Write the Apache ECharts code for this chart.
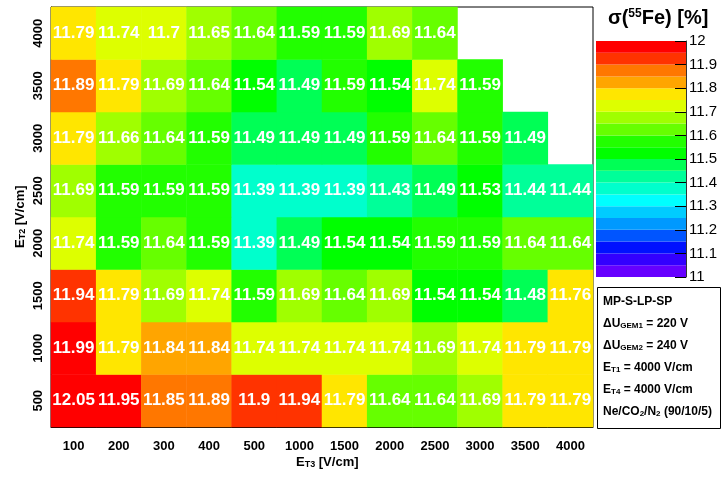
<!DOCTYPE html>
<html>
<head>
<meta charset="utf-8">
<script src="https://cdn.jsdelivr.net/npm/echarts@6/dist/echarts.min.js"></script>
<style>
  html, body { margin: 0; padding: 0; background: #fff; }
  #chart { width: 723px; height: 477px; }
</style>
</head>
<body>
<div id="chart"></div>
<script>
// E_T3 drift field settings (x) and E_T2 settings (y), in V/cm
const et3Labels = ['100', '200', '300', '400', '500', '1000', '1500', '2000', '2500', '3000', '3500', '4000'];
const et2Labels = ['500', '1000', '1500', '2000', '2500', '3000', '3500', '4000'];

// Energy resolution sigma(55Fe) in %, one row per E_T2 value (null = not measured)
const row500  = [12.05, 11.95, 11.85, 11.89, 11.9, 11.94, 11.79, 11.64, 11.64, 11.69, 11.79, 11.79];
const row1000 = [11.99, 11.79, 11.84, 11.84, 11.74, 11.74, 11.74, 11.74, 11.69, 11.74, 11.79, 11.79];
const row1500 = [11.94, 11.79, 11.69, 11.74, 11.59, 11.69, 11.64, 11.69, 11.54, 11.54, 11.48, 11.76];
const row2000 = [11.74, 11.59, 11.64, 11.59, 11.39, 11.49, 11.54, 11.54, 11.59, 11.59, 11.64, 11.64];
const row2500 = [11.69, 11.59, 11.59, 11.59, 11.39, 11.39, 11.39, 11.43, 11.49, 11.53, 11.44, 11.44];
const row3000 = [11.79, 11.66, 11.64, 11.59, 11.49, 11.49, 11.49, 11.59, 11.64, 11.59, 11.49, null];
const row3500 = [11.89, 11.79, 11.69, 11.64, 11.54, 11.49, 11.59, 11.54, 11.74, 11.59, null, null];
const row4000 = [11.79, 11.74, 11.7, 11.65, 11.64, 11.59, 11.59, 11.69, 11.64, null, null, null];
const rows = [row500, row1000, row1500, row2000, row2500, row3000, row3500, row4000];

// Colour scale: 20 bands of 0.05 % from 11 to 12
const zMin = 11, zMax = 12, zStep = 0.05;
const palette = [
  '#6600ff', '#3300ff', '#0011ff', '#0055ff', '#0099ff',
  '#00ccff', '#00ffff', '#00ffcc', '#00ff99', '#00ff55',
  '#00ff00', '#22ff00', '#66ff00', '#a0ff00', '#ddff00',
  '#ffe600', '#ffa500', '#ff7700', '#ff3300', '#ff0000'
];
const colorbarTicks = ['11', '11.1', '11.2', '11.3', '11.4', '11.5', '11.6', '11.7', '11.8', '11.9', '12'];

const r2 = v => Math.round(v * 100) / 100;

const heatData = [];
rows.forEach((row, yi) => row.forEach((v, xi) => {
  if (v !== null) heatData.push([xi, yi, v]);
}));

const pieces = palette.map((c, i) => {
  const p = { color: c };
  if (i > 0) p.gte = r2(zMin + zStep * i);
  if (i < palette.length - 1) p.lt = r2(zMin + zStep * (i + 1));
  return p;
});

const bandData = palette.map((c, i) => [r2(zMin + zStep * i), r2(zMin + zStep * (i + 1)), i]);

const FONT = '"Liberation Sans", Arial, Helvetica, sans-serif';

const subRich = {
  b: { fontFamily: FONT, fontWeight: 'bold', fontSize: 12, lineHeight: 12, verticalAlign: 'top', color: '#000' },
  s: { fontFamily: FONT, fontWeight: 'bold', fontSize: 8, lineHeight: 8, verticalAlign: 'bottom', padding: [8, 0, 0, 0], color: '#000' }
};
const axisNameRich = {
  b: { fontFamily: FONT, fontWeight: 'bold', fontSize: 13, lineHeight: 13, verticalAlign: 'top', color: '#000' },
  s: { fontFamily: FONT, fontWeight: 'bold', fontSize: 9, lineHeight: 9, verticalAlign: 'bottom', padding: [8, 0, 0, 0], color: '#000' }
};

const legendLines = [
  '{b|MP-S-LP-SP}',
  '{b|\u0394U}{s|GEM1}{b| = 220 V}',
  '{b|\u0394U}{s|GEM2}{b| = 240 V}',
  '{b|E}{s|T1}{b| = 4000 V/cm}',
  '{b|E}{s|T4}{b| = 4000 V/cm}',
  '{b|Ne/CO}{s|2}{b|/N}{s|2}{b| (90/10/5)}'
];

const chart = echarts.init(document.getElementById('chart'));

chart.setOption({
  animation: false,
  backgroundColor: '#fff',
  grid: [
    { left: 51, top: 7, width: 542, height: 420, show: true, borderColor: '#000', borderWidth: 1, backgroundColor: '#fff' },
    { left: 596, top: 41, width: 90, height: 236 }
  ],
  xAxis: [
    {
      type: 'category', gridIndex: 0, data: et3Labels,
      axisLine: { lineStyle: { color: '#000', width: 1 } },
      axisTick: { length: 6, lineStyle: { color: '#000' } },
      axisLabel: { color: '#000', fontFamily: FONT, fontWeight: 'bold', fontSize: 13, margin: 13 },
      splitLine: { show: false }
    },
    { type: 'value', gridIndex: 1, min: 0, max: 1, show: false }
  ],
  yAxis: [
    {
      type: 'category', gridIndex: 0, data: et2Labels,
      axisLine: { lineStyle: { color: '#000', width: 1 } },
      axisTick: { length: 6, lineStyle: { color: '#000' } },
      axisLabel: { color: '#000', fontFamily: FONT, fontWeight: 'bold', fontSize: 13, rotate: 90, margin: 6 },
      splitLine: { show: false }
    },
    {
      type: 'value', gridIndex: 1, position: 'right', min: zMin, max: zMax, interval: 0.1, z: 10,
      axisLine: { show: true, onZero: false, lineStyle: { color: '#333', width: 1 } },
      axisTick: { show: true, inside: true, length: 11, lineStyle: { color: '#000' } },
      axisLabel: {
        color: '#000', fontFamily: FONT, fontSize: 15, margin: 3,
        formatter: v => colorbarTicks[Math.round((v - zMin) * 10)]
      },
      splitLine: { show: false }
    }
  ],
  visualMap: {
    type: 'piecewise', show: false, seriesIndex: 0, dimension: 2, pieces: pieces
  },
  series: [
    {
      type: 'heatmap', xAxisIndex: 0, yAxisIndex: 0, data: heatData,
      label: {
        show: true, color: '#fff', fontFamily: FONT, fontWeight: 'bold', fontSize: 17,
        formatter: p => String(p.value[2])
      },
      itemStyle: { borderWidth: 0 },
      emphasis: { disabled: true }
    },
    {
      type: 'custom', xAxisIndex: 1, yAxisIndex: 1, data: bandData, z: 1,
      renderItem: (params, api) => {
        const p0 = api.coord([0, api.value(1)]);
        const p1 = api.coord([1, api.value(0)]);
        return {
          type: 'rect',
          shape: { x: p0[0], y: p0[1], width: p1[0] - p0[0], height: p1[1] - p0[1] },
          style: { fill: palette[api.value(2)] }
        };
      },
      silent: true
    }
  ],
  graphic: [
    {
      type: 'text', left: 608, top: 1, silent: true,
      style: {
        text: '{m|\u03c3(}{u|55}{m|Fe) [%]}',
        rich: {
          m: { fontFamily: FONT, fontWeight: 'bold', fontSize: 20, lineHeight: 20, verticalAlign: 'bottom', padding: [7, 0, 0, 0], color: '#000' },
          u: { fontFamily: FONT, fontWeight: 'bold', fontSize: 12, lineHeight: 12, verticalAlign: 'top', color: '#000' }
        }
      }
    },
    {
      type: 'text', x: 296, y: 456, silent: true,
      style: { text: '{b|E}{s|T3}{b| [V/cm]}', rich: axisNameRich }
    },
    {
      type: 'text', x: 14, y: 248, rotation: Math.PI / 2, silent: true,
      style: { text: '{b|E}{s|T2}{b| [V/cm]}', rich: axisNameRich }
    },
    {
      type: 'rect', left: 597, top: 287, silent: true,
      shape: { width: 123, height: 141 },
      style: { fill: '#fff', stroke: '#000', lineWidth: 1 }
    }
  ].concat(legendLines.map((t, i) => ({
    type: 'text', x: 603, y: 296 + i * 22, silent: true,
    style: { text: t, rich: subRich }
  })))
});
</script>
</body>
</html>
